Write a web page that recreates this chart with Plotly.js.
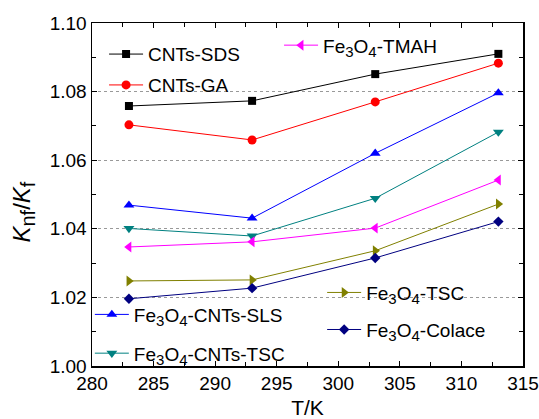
<!DOCTYPE html>
<html>
<head>
<meta charset="utf-8">
<script src="https://cdn.plot.ly/plotly-3.0.1.min.js"></script>
<style>html,body{margin:0;padding:0;background:#fff;}#chart{width:539px;height:419px;}</style>
</head>
<body>
<div id="chart"></div>
<script>
// Data
const temps = [283, 293, 303, 313];
const S3 = '<sub><span style="font-size:15px">3</span></sub>';
const S4 = '<sub><span style="font-size:15px">4</span></sub>';
const seriesNames = [
  'CNTs-SDS',
  'CNTs-GA',
  'Fe' + S3 + 'O' + S4 + '-CNTs-SLS',
  'Fe' + S3 + 'O' + S4 + '-CNTs-TSC',
  'Fe' + S3 + 'O' + S4 + '-TMAH',
  'Fe' + S3 + 'O' + S4 + '-TSC',
  'Fe' + S3 + 'O' + S4 + '-Colace'
];
const cntsSDS    = [1.0758, 1.0773, 1.0851, 1.0910];
const cntsGA     = [1.0703, 1.0659, 1.0770, 1.0883];
const fe3o4CntsSLS = [1.0469, 1.0431, 1.0620, 1.0796];
const fe3o4CntsTSC = [1.0401, 1.0379, 1.0489, 1.0682];
const fe3o4TMAH  = [1.0347, 1.0362, 1.0402, 1.0542];
const fe3o4TSC   = [1.0248, 1.0251, 1.0336, 1.0472];
const fe3o4Colace = [1.0196, 1.0227, 1.0315, 1.0421];
const xTickVals = [280, 285, 290, 295, 300, 305, 310, 315];
const yTickVals = [1.00, 1.02, 1.04, 1.06, 1.08, 1.10];
const yTickText = ['1.00', '1.02', '1.04', '1.06', '1.08', '1.10'];
const yTitle = '<i>K</i><sub><span style="font-size:20px">nf</span></sub>/<i>K</i><sub><span style="font-size:20px">f</span></sub>';

const values = [cntsSDS, cntsGA, fe3o4CntsSLS, fe3o4CntsTSC, fe3o4TMAH, fe3o4TSC, fe3o4Colace];
const styles = [
  {color: '#000000', symbol: 'square', size: 8, legend: 'legend'},
  {color: '#FF0000', symbol: 'circle', size: 9, legend: 'legend2'},
  {color: '#0000FF', symbol: 'triangle-up', size: 9.5, legend: 'legend3'},
  {color: '#008080', symbol: 'triangle-down', size: 9.5, legend: 'legend4'},
  {color: '#FF00FF', symbol: 'triangle-left', size: 9.5, legend: 'legend5'},
  {color: '#808000', symbol: 'triangle-right', size: 9.5, legend: 'legend6'},
  {color: '#000080', symbol: 'diamond', size: 8, legend: 'legend7'}
];

const traces = values.map((v, i) => ({
  x: temps,
  y: v,
  name: seriesNames[i],
  type: 'scatter',
  mode: 'lines+markers',
  line: {color: styles[i].color, width: 1},
  marker: {color: styles[i].color, symbol: styles[i].symbol, size: styles[i].size},
  legend: styles[i].legend,
  showlegend: true
}));

const FONT = 'Liberation Sans, Arial, Helvetica, sans-serif';
function leg(x, y) {
  return {
    x: x, y: y, xanchor: 'left', yanchor: 'middle',
    bgcolor: 'rgba(0,0,0,0)', borderwidth: 0, itemwidth: 34,
    font: {family: FONT, size: 19, color: '#000'}
  };
}

const layout = {
  width: 539, height: 419,
  margin: {l: 92, r: 16, t: 23, b: 53},
  paper_bgcolor: '#fff', plot_bgcolor: '#fff',
  font: {family: FONT, size: 19, color: '#000'},
  xaxis: {
    range: [280, 315],
    tickvals: xTickVals,
    ticks: 'inside', ticklen: 5, tickwidth: 1, tickcolor: '#000',
    showline: true, linecolor: '#000', linewidth: 1.5, mirror: 'ticks',
    showgrid: false, zeroline: false,
    minor: {ticks: 'inside', dtick: 2.5, tick0: 280, ticklen: 4, tickcolor: '#000', showgrid: false},
    tickfont: {family: FONT, size: 19, color: '#000'},
    title: {text: 'T/K', font: {family: FONT, size: 21, color: '#000'}, standoff: 12}
  },
  yaxis: {
    range: [1.00, 1.10],
    tickvals: yTickVals, ticktext: yTickText,
    ticks: 'inside', ticklen: 5, tickwidth: 1, tickcolor: '#000',
    showline: true, linecolor: '#000', linewidth: 1.5, mirror: 'ticks',
    showgrid: true, gridcolor: '#999', griddash: 'dot', gridwidth: 1,
    zeroline: false,
    minor: {ticks: 'inside', dtick: 0.01, tick0: 1.0, ticklen: 4, tickcolor: '#000', showgrid: false},
    tickfont: {family: FONT, size: 19, color: '#000'}
  },
  annotations: [{
    text: yTitle, xref: 'paper', yref: 'paper', x: -0.158, y: 0.45,
    xanchor: 'center', yanchor: 'middle', textangle: -90, showarrow: false,
    font: {family: FONT, size: 24, color: '#000'}
  }],
  legend: leg(0.028, 0.909),
  legend2: leg(0.028, 0.819),
  legend3: leg(-0.005, 0.15),
  legend4: leg(-0.005, 0.037),
  legend5: leg(0.434, 0.935),
  legend6: leg(0.534, 0.214),
  legend7: leg(0.534, 0.106)
};

Plotly.newPlot('chart', traces, layout, {displayModeBar: false, staticPlot: true});
</script>
</body>
</html>
